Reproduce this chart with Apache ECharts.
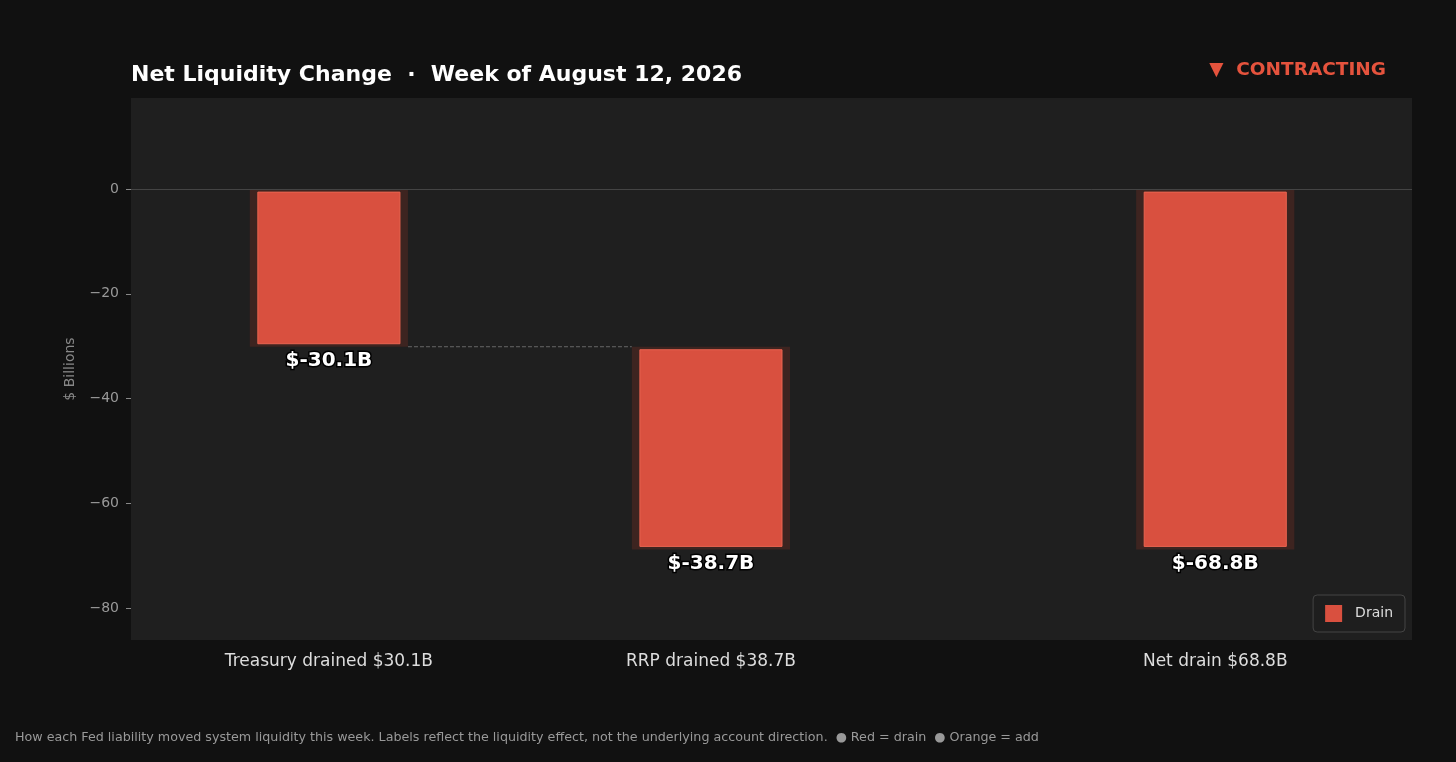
<!DOCTYPE html>
<html>
<head>
<meta charset="utf-8">
<title>Net Liquidity Change</title>
<script src="https://cdn.jsdelivr.net/npm/echarts@6/dist/echarts.min.js"></script>
<style>
  html, body { margin: 0; padding: 0; background: #111111; }
  #chart { width: 1456px; height: 762px; }
</style>
</head>
<body>
<div id="chart"></div>
<script>
// categories and where each one sits on the x axis (net bar is set apart)
var categories = ['Treasury drained $30.1B', 'RRP drained $38.7B', 'Net drain $68.8B'];
var xPositions = [0, 1, 2.32];

// waterfall: each bar runs from barStart to barEnd ($ billions)
var barStart = [0, -30.1, 0];
var barEnd = [-30.1, -68.8, -68.8];
var barLabels = ['$-30.1B', '$-38.7B', '$-68.8B'];
var connectNext = [true, false, false];

var yTicks = [0, -20, -40, -60, -80];

var RED = '#d9503f';
var GLOW = '#3d2420';

var seriesData = xPositions.map(function (x, i) {
    return [x, barStart[i], barEnd[i]];
});

var chart = echarts.init(document.getElementById('chart'));

chart.setOption({
    backgroundColor: '#111111',
    animation: false,
    textStyle: { fontFamily: 'DejaVu Sans' },
    title: {
        text: 'Net Liquidity Change  \u00b7  Week of August 12, 2026',
        left: 131,
        top: 64,
        padding: 0,
        textStyle: { color: '#ffffff', fontSize: 22, fontWeight: 'bold', fontFamily: 'DejaVu Sans' }
    },
    graphic: [
        {
            type: 'text',
            right: 70,
            top: 61,
            style: {
                text: '\u25bc  CONTRACTING',
                fill: '#e5533d',
                font: 'bold 18.5px "DejaVu Sans"'
            }
        },
        {
            type: 'text',
            left: 15,
            top: 731,
            style: {
                text: 'How each Fed liability moved system liquidity this week. Labels reflect the liquidity effect, not the underlying account direction.  \u25cf Red = drain  \u25cf Orange = add',
                fill: '#999999',
                font: '12.7px "DejaVu Sans"'
            }
        }
    ],
    legend: {
        data: ['Drain'],
        right: 51,
        bottom: 130,
        padding: [10, 12, 10, 12],
        icon: 'rect',
        itemWidth: 17,
        itemHeight: 17,
        backgroundColor: '#1e1e1e',
        borderColor: '#444444',
        borderWidth: 1,
        borderRadius: 4,
        textStyle: { color: '#dddddd', fontSize: 14, fontFamily: 'DejaVu Sans', padding: [0, 0, 0, 8] }
    },
    grid: {
        left: 131,
        right: 44,
        top: 98,
        bottom: 122,
        show: true,
        backgroundColor: '#1f1f1f',
        borderWidth: 0
    },
    xAxis: {
        type: 'value',
        min: -0.518,
        max: 2.835,
        axisLine: { show: false },
        axisTick: { show: false },
        splitLine: { show: false },
        axisLabel: {
            customValues: xPositions,
            margin: 13,
            color: '#dddddd',
            fontSize: 17,
            fontFamily: 'DejaVu Sans',
            formatter: function (v) {
                var i = xPositions.indexOf(v);
                return i >= 0 ? categories[i] : '';
            }
        }
    },
    yAxis: {
        type: 'value',
        min: -86.1,
        max: 17.4,
        name: '$ Billions',
        nameLocation: 'middle',
        nameGap: 54,
        nameRotate: 90,
        nameTextStyle: { color: '#888888', fontSize: 14, fontFamily: 'DejaVu Sans' },
        axisLine: { show: false, onZero: false },
        axisTick: { show: true, customValues: yTicks, length: 5, lineStyle: { color: '#888888' } },
        splitLine: { show: false },
        axisLabel: {
            customValues: yTicks,
            margin: 12,
            color: '#999999',
            fontSize: 14,
            fontFamily: 'DejaVu Sans',
            formatter: function (v) { return String(v).replace('-', '\u2212'); }
        }
    },
    series: [{
        name: 'Drain',
        type: 'custom',
        itemStyle: { color: RED },
        data: seriesData,
        encode: { x: 0, y: [1, 2] },
        markLine: {
            silent: true,
            symbol: 'none',
            label: { show: false },
            lineStyle: { color: '#444444', width: 1, type: 'solid' },
            data: [{ yAxis: 0 }]
        },
        renderItem: function (params, api) {
            var i = params.dataIndex;
            var x = api.value(0);
            var top = api.coord([x, api.value(1)]);
            var bot = api.coord([x, api.value(2)]);
            var gw = api.size([0.414, 0])[0];
            var bw = api.size([0.372, 0])[0];
            var h = bot[1] - top[1];
            var children = [
                {
                    type: 'rect',
                    shape: { x: top[0] - gw / 2, y: top[1], width: gw, height: h },
                    style: { fill: GLOW }
                },
                {
                    type: 'rect',
                    shape: { x: top[0] - bw / 2, y: top[1] + 3, width: bw, height: h - 6 },
                    style: { fill: RED, stroke: '#ea6450', lineWidth: 1 }
                },
                {
                    type: 'text',
                    style: {
                        text: barLabels[i],
                        x: top[0],
                        y: bot[1] + 4,
                        align: 'center',
                        verticalAlign: 'top',
                        fill: '#ffffff',
                        stroke: '#000000',
                        lineWidth: 3,
                        font: 'bold 20px "DejaVu Sans"'
                    }
                }
            ];
            if (connectNext[i]) {
                var nx = api.coord([xPositions[i + 1], barEnd[i]]);
                children.push({
                    type: 'line',
                    shape: { x1: bot[0] + gw / 2, y1: bot[1], x2: nx[0] - gw / 2, y2: nx[1] },
                    style: { stroke: '#666666', lineWidth: 1, lineDash: [4, 2] }
                });
            }
            return { type: 'group', children: children };
        }
    }]
});
</script>
</body>
</html>
